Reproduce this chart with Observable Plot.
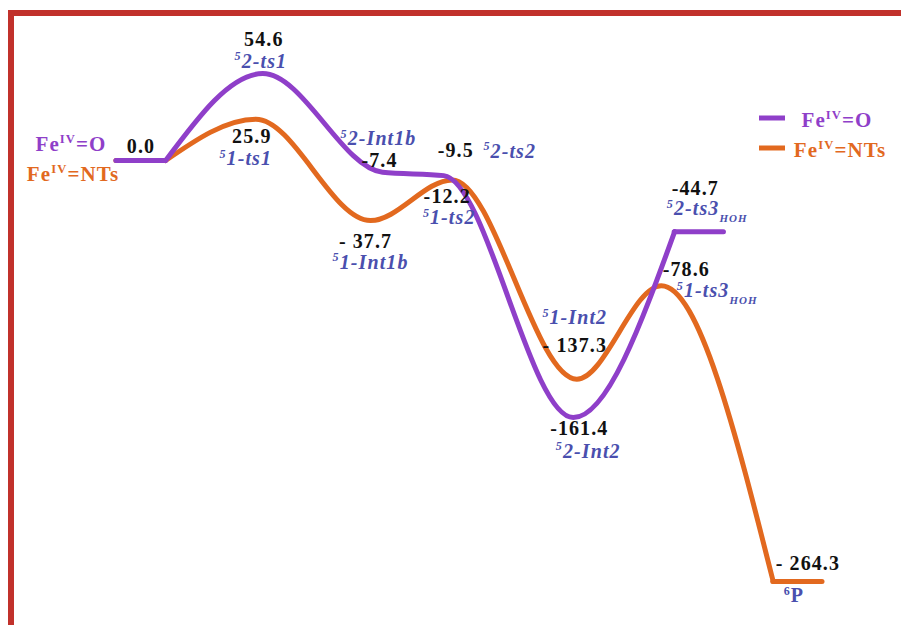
<!DOCTYPE html>
<html>
<head>
<meta charset="utf-8">
<script src="https://cdn.jsdelivr.net/npm/d3@7"></script>
<script src="https://cdn.jsdelivr.net/npm/@observablehq/plot@0.6"></script>
<style>
  body { margin: 0; background: #fff; }
  #wrap { position: relative; width: 901px; height: 625px; overflow: hidden; }
  #frame {
    position: absolute; left: 8px; top: 10px; right: -10px; bottom: -10px;
    border-left: 6px solid #c1312b; border-top: 6px solid #c1312b;
    pointer-events: none;
  }
  #legend { position: absolute; left: 750px; top: 100px; }
</style>
</head>
<body>
<div id="wrap"><div id="frame"></div></div>
<script>
// Energy profile (kcal/mol) for the two oxidants along the reaction coordinate
const oxoStates  = ["R", "ts1", "Int1b", "ts2", "Int2", "ts3"];
const oxoRC      = [0.32, 2.05, 3.75, 4.62, 6.46, 8.25];
const oxoEnergy  = [0.0, 54.6, -7.4, -9.5, -161.4, -44.7];
const oxoNames   = ["", "^{5}2-ts1", "^{5}2-Int1b", "^{5}2-ts2", "^{5}2-Int2", "^{5}2-ts3_{HOH}"];
const oxoLevels  = ["R", "ts3"];

const ntsStates  = ["R", "ts1", "Int1b", "ts2", "Int2", "ts3", "P"];
const ntsRC      = [0.32, 1.95, 3.58, 4.74, 6.51, 7.71, 9.65];
const ntsEnergy  = [0.0, 25.9, -37.7, -12.2, -137.3, -78.6, -264.3];
const ntsNames   = ["", "^{5}1-ts1", "^{5}1-Int1b", "^{5}1-ts2", "^{5}1-Int2", "^{5}1-ts3_{HOH}", "^{6}P"];
const ntsLevels  = ["R", "P"];

const seriesNames = ["Fe^{IV}=O", "Fe^{IV}=NTs"];
const spacedMinus = ["nts:Int1b", "nts:Int2", "nts:P"];

const PURPLE = "#8f3fc9", ORANGE = "#e2691f", BLUE = "#4a4fae", INK = "#111";
const FONT = "'Liberation Serif', 'Times New Roman', serif";
const LEVEL_HALF = 0.35;

// Split a profile into smooth transition segments and flat levels
function profile(key, states, rc, energy, levelStates) {
  const curve = [], levels = [];
  let seg = 0, current = [];
  const close = () => { if (current.length > 1) curve.push(...current); seg++; current = []; };
  states.forEach((s, i) => {
    const e = energy[i];
    if (levelStates.includes(s)) {
      const a = rc[i] - LEVEL_HALF, b = rc[i] + LEVEL_HALF;
      levels.push({key, x1: a, x2: b, y: e});
      current.push({key, seg, x: a, y: e});
      close();
      current.push({key, seg, x: b, y: e});
    } else {
      current.push({key, seg, x: rc[i], y: e});
    }
  });
  close();
  return {curve, levels};
}

const oxo = profile("oxo", oxoStates, oxoRC, oxoEnergy, oxoLevels);
const nts = profile("nts", ntsStates, ntsRC, ntsEnergy, ntsLevels);

function valueText(key, state, v) {
  if (spacedMinus.includes(`${key}:${state}`)) return "- " + Math.abs(v).toFixed(1);
  return v.toFixed(1);
}

// Label placement offsets (px) from each stationary point
const place = {
  "oxo:R:value": [0, -8],
  "oxo:ts1:value": [1, -28],   "oxo:ts1:name": [-2, -6],
  "oxo:Int1b:value": [-3, -5], "oxo:Int1b:name": [-4, -27],
  "oxo:ts2:value": [12, -19],  "oxo:ts2:name": [66, -18],
  "oxo:Int2:value": [6, 17],   "oxo:Int2:name": [15, 40],
  "oxo:ts3:value": [-4, -37],  "oxo:ts3:name": [8, -17],
  "nts:ts1:value": [-4, 24],   "nts:ts1:name": [-10, 46],
  "nts:Int1b:value": [-5, 27], "nts:Int1b:name": [0, 48],
  "nts:ts2:value": [-5, 23],   "nts:ts2:name": [-3, 44],
  "nts:Int2:value": [-2, -27], "nts:Int2:name": [-2, -55],
  "nts:ts3:value": [25, -10],  "nts:ts3:name": [56, 11],
  "nts:P:value": [10, -11],    "nts:P:name": [-4, 21],
  "oxo:R:series": [-70, -10],  "nts:R:series": [-68, 20]
};

const labels = [];
function addLabels(key, states, rc, energy, names, seriesLabel, color) {
  states.forEach((s, i) => {
    const pos = {x: rc[i], y: energy[i]};
    if (place[`${key}:${s}:value`]) labels.push({...pos, kind: "value", text: valueText(key, s, energy[i]), off: place[`${key}:${s}:value`]});
    if (names[i]) labels.push({...pos, kind: s === "P" ? "product" : "name", text: names[i], off: place[`${key}:${s}:name`]});
    if (place[`${key}:${s}:series`]) labels.push({...pos, kind: "series", text: seriesLabel, color, off: place[`${key}:${s}:series`]});
  });
}
addLabels("oxo", oxoStates, oxoRC, oxoEnergy, oxoNames, seriesNames[0], PURPLE);
addLabels("nts", ntsStates, ntsRC, ntsEnergy, ntsNames, seriesNames[1], ORANGE);

const textStyle = {
  value: {fill: INK, fontSize: 20, fontWeight: "bold"},
  name: {fill: BLUE, fontSize: 20, fontWeight: "bold", fontStyle: "italic"},
  product: {fill: BLUE, fontSize: 20, fontWeight: "bold"},
  series: {fontSize: 21, fontWeight: "bold"}
};

const lineOpts = (color) => ({x: "x", y: "y", z: "seg", stroke: color, strokeWidth: 5, curve: "monotone-x", strokeLinecap: "round", strokeLinejoin: "round"});
const levelOpts = (color) => ({x1: "x1", x2: "x2", y: "y", stroke: color, strokeWidth: 5, strokeLinecap: "round"});

const chart = Plot.plot({
  width: 901,
  height: 625,
  margin: 0,
  x: {domain: [0, 10], range: [118, 822], axis: null},
  y: {domain: [-280, 70], range: [606, 48.5], axis: null},
  style: {background: "transparent", fontFamily: FONT},
  marks: [
    Plot.line(nts.curve, lineOpts(ORANGE)),
    Plot.ruleY(nts.levels, levelOpts(ORANGE)),
    Plot.line(oxo.curve, lineOpts(PURPLE)),
    Plot.ruleY(oxo.levels, levelOpts(PURPLE)),
    ...labels.map(l => Plot.text([l], {
      x: "x", y: "y", text: "text",
      dx: l.off[0], dy: l.off[1],
      lineAnchor: "bottom", textAnchor: "middle",
      fontFamily: FONT,
      ...textStyle[l.kind],
      ...(l.color ? {fill: l.color} : {})
    }))
  ]
});

const wrap = document.getElementById("wrap");
wrap.insertBefore(chart, wrap.firstChild);
chart.style.position = "absolute";
chart.style.left = "0px";
chart.style.top = "0px";
chart.querySelectorAll("text").forEach(t => t.style.letterSpacing = "1.1px");

// Legend with line swatches
const legend = d3.create("svg").attr("id", "legend").attr("width", 151).attr("height", 70)
  .style("font-family", FONT);
[[PURPLE, seriesNames[0], 18, 87], [ORANGE, seriesNames[1], 48, 90]].forEach(([c, t, y, cx]) => {
  legend.append("line").attr("x1", 9).attr("x2", 35).attr("y1", y).attr("y2", y)
    .attr("stroke", c).attr("stroke-width", 5);
  legend.append("text").attr("x", cx).attr("y", y + 9).attr("text-anchor", "middle")
    .attr("fill", c).attr("font-size", 21).attr("font-weight", "bold")
    .style("letter-spacing", "1.1px").text(t);
});
wrap.appendChild(legend.node());

// Turn ^{..} and _{..} markup into raised / lowered tspans
function richText(root) {
  const ns = "http://www.w3.org/2000/svg";
  root.querySelectorAll("text").forEach(el => {
    const s = el.textContent;
    if (!/[\^_]\{/.test(s)) return;
    const fs = parseFloat(getComputedStyle(el).fontSize) || 20;
    el.textContent = "";
    let shift = 0;
    s.split(/(\^\{[^}]*\}|_\{[^}]*\})/).filter(p => p).forEach(p => {
      const t = document.createElementNS(ns, "tspan");
      let target = 0;
      if (p.startsWith("^{")) {
        t.textContent = p.slice(2, -1);
        t.setAttribute("font-size", (fs * 0.6).toFixed(1));
        target = -0.36 * fs;
      } else if (p.startsWith("_{")) {
        t.textContent = p.slice(2, -1);
        t.setAttribute("font-size", (fs * 0.55).toFixed(1));
        target = 0.38 * fs;
      } else {
        t.textContent = p;
      }
      if (target !== shift) t.setAttribute("dy", (target - shift).toFixed(1));
      shift = target;
      el.appendChild(t);
    });
  });
}
richText(chart);
richText(legend.node());
</script>
</body>
</html>
